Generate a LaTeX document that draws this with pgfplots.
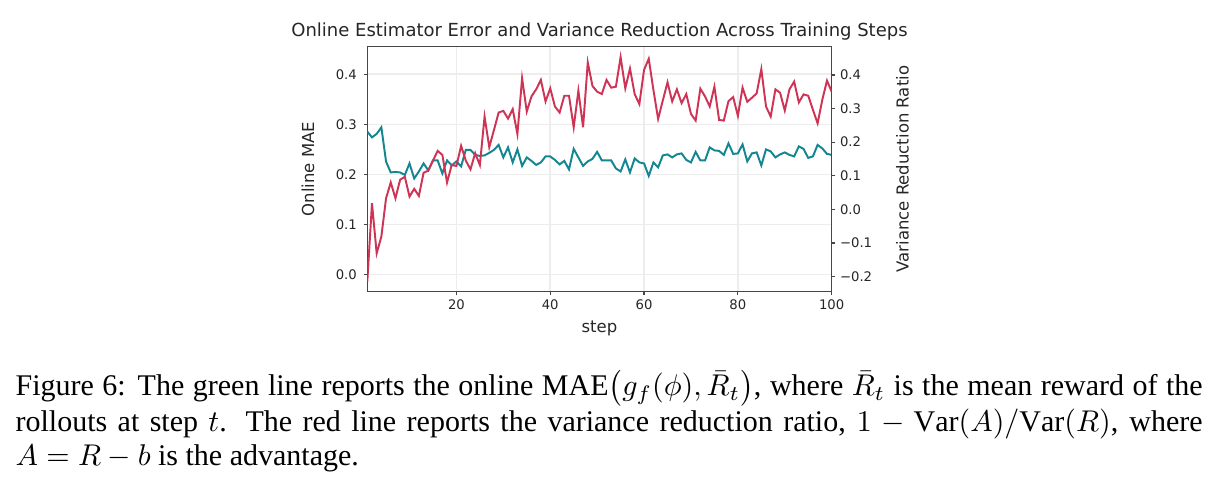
\documentclass[border=0pt]{standalone}
\usepackage{fontspec}
\setmainfont{Liberation Serif}
\newfontfamily\dejavu{DejaVu Sans}
\usepackage{pgfplots}
\pgfplotsset{compat=1.18}
\usepackage{pgfplotstable}

\definecolor{maeteal}{RGB}{20,134,146}
\definecolor{vrred}{RGB}{206,52,86}
\definecolor{spine}{RGB}{70,70,70}

% Online MAE of the estimator per training step
\pgfplotstableread{
step mae
1 0.2855
2 0.274
3 0.281
4 0.294
5 0.2256
6 0.204
7 0.205
8 0.204
9 0.199
10 0.222
11 0.192
12 0.206
13 0.222
14 0.208
15 0.228
16 0.228
17 0.202
18 0.228
19 0.218
20 0.226
21 0.216
22 0.249
23 0.249
24 0.239
25 0.237
26 0.238
27 0.243
28 0.249
29 0.259
30 0.234
31 0.254
32 0.224
33 0.250
34 0.217
35 0.234
36 0.227
37 0.219
38 0.224
39 0.236
40 0.236
41 0.229
42 0.220
43 0.227
44 0.210
45 0.251
46 0.234
47 0.217
48 0.226
49 0.231
50 0.245
51 0.228
52 0.228
53 0.228
54 0.212
55 0.206
56 0.230
57 0.204
58 0.232
59 0.224
60 0.222
61 0.197
62 0.224
63 0.214
64 0.238
65 0.240
66 0.234
67 0.240
68 0.242
69 0.229
70 0.224
71 0.245
72 0.228
73 0.228
74 0.254
75 0.248
76 0.247
77 0.239
78 0.262
79 0.241
80 0.242
81 0.260
82 0.226
83 0.242
84 0.244
85 0.218
86 0.250
87 0.246
88 0.234
89 0.240
90 0.244
91 0.239
92 0.236
93 0.256
94 0.251
95 0.233
96 0.236
97 0.259
98 0.252
99 0.241
100 0.239
}\maetable

% Variance reduction ratio per training step
\pgfplotstableread{
step vr
1 -0.215
2 0.018
3 -0.131
4 -0.081
5 0.033
6 0.080
7 0.033
8 0.088
9 0.097
10 0.038
11 0.061
12 0.040
13 0.109
14 0.115
15 0.145
16 0.174
17 0.162
18 0.080
19 0.132
20 0.129
21 0.189
22 0.145
23 0.119
24 0.167
25 0.132
26 0.276
27 0.185
28 0.236
29 0.288
30 0.293
31 0.270
32 0.298
33 0.224
34 0.390
35 0.291
36 0.336
37 0.357
38 0.385
39 0.321
40 0.360
41 0.306
42 0.288
43 0.338
44 0.338
45 0.244
46 0.353
47 0.244
48 0.437
49 0.367
50 0.350
51 0.343
52 0.385
53 0.362
54 0.365
55 0.453
56 0.360
57 0.419
58 0.343
59 0.313
60 0.415
61 0.448
62 0.355
63 0.269
64 0.324
65 0.378
66 0.321
67 0.357
68 0.316
69 0.343
70 0.284
71 0.264
72 0.359
73 0.336
74 0.306
75 0.365
76 0.266
77 0.264
78 0.322
79 0.334
80 0.278
81 0.362
82 0.320
83 0.332
84 0.345
85 0.417
86 0.306
87 0.276
88 0.357
89 0.347
90 0.294
91 0.357
92 0.380
93 0.318
94 0.342
95 0.338
96 0.296
97 0.256
98 0.326
99 0.383
100 0.350
}\vrtable

\pgfplotsset{
  twinbase/.style={
    scale only axis,
    width=154.8pt, height=81.67pt,
    at={(122.43pt,-97.23pt)}, anchor=south west,
    xmin=1, xmax=100,
    tick align=outside,
    major tick length=1.2pt,
    axis line style={draw=spine, line width=0.45pt},
    tick style={draw=spine, line width=0.4pt},
    ticklabel style={font=\dejavu\fontsize{4.4}{5}\selectfont, inner sep=0pt, text=black!85},
    label style={font=\dejavu\fontsize{5.5}{6}\selectfont, inner sep=0pt, text=black!85},
  }
}

\begin{document}
\begin{tikzpicture}
\path[use as bounding box] (0pt,0pt) rectangle (406.33pt,-162.33pt);

% left axis: online MAE
\begin{axis}[
  twinbase,
  ymin=-0.034, ymax=0.455,
  xtick pos=bottom, ytick pos=left,
  xtick={20,40,60,80,100}, xticklabels={20,40,60,80,100},
  ytick={0,0.1,0.2,0.3,0.4}, yticklabels={0.0,0.1,0.2,0.3,0.4},
  xticklabel style={anchor=north},
  yticklabel style={anchor=east},
  xticklabel shift=1.2pt,
  yticklabel shift=2.1pt,
  grid=major,
  major grid style={draw=black!7, line width=0.5pt},
  title={Online Estimator Error and Variance Reduction Across Training Steps},
  title style={at={(axis description cs:0.5,1.0396)}, anchor=base, yshift=-6pt,
    font=\dejavu\fontsize{6.0}{7}\selectfont, inner sep=0pt, text=black!85},
  xlabel={step},
  xlabel style={at={(axis description cs:0.5,-0.1686)}, anchor=base},
  ylabel={Online MAE},
  ylabel style={at={(axis description cs:-0.1279,0.5)}, anchor=center},
]
\addplot[maeteal, line width=0.65pt, mark=none] table[x=step, y=mae] {\maetable};
\end{axis}

% right axis: variance reduction ratio
\begin{axis}[
  twinbase,
  ymin=-0.245, ymax=0.484,
  axis x line=none,
  axis y line*=right,
  ytick={-0.2,-0.1,0,0.1,0.2,0.3,0.4},
  yticklabels={−0.2,−0.1,0.0,0.1,0.2,0.3,0.4},
  yticklabel style={anchor=west},
  yticklabel shift=1.4pt,
  ylabel={Variance Reduction Ratio},
  ylabel style={at={(axis description cs:1.1525,0.5)}, anchor=center},
]
\addplot[vrred, line width=0.65pt, mark=none] table[x=step, y=vr] {\vrtable};
\end{axis}

% figure caption
\node[anchor=base west, text width=395.7pt, align=justify, inner sep=0pt,
      font=\fontsize{10}{11}\selectfont] at (5pt,-132pt)
{Figure 6: The green line reports the online $\mathrm{MAE}\bigl(g_f(\phi),\bar{R}_t\bigr)$, where $\bar{R}_t$ is the mean reward of the\linebreak
rollouts at step $t$.  The red line reports the variance reduction ratio, $1-\mathrm{Var}(A)/\mathrm{Var}(R)$, where\linebreak
$A=R-b$ is the advantage.};
\end{tikzpicture}
\end{document}
